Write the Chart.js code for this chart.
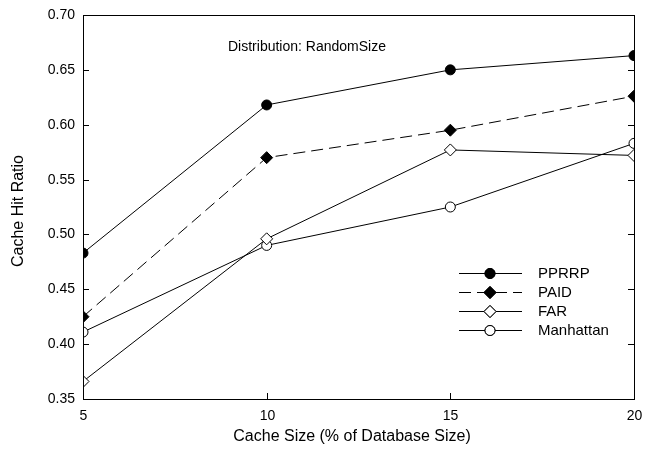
<!DOCTYPE html>
<html>
<head>
<meta charset="utf-8">
<script src="https://cdn.jsdelivr.net/npm/chart.js@4.4.1/dist/chart.umd.min.js"></script>
<style>
  html, body { margin: 0; padding: 0; background: #fff; }
  #wrap { width: 654px; height: 461px; }
</style>
</head>
<body>
<div id="wrap"><canvas id="hitChart" width="654" height="461"></canvas></div>
<script>
// cache sizes (% of database size)
var cacheSizes = [5, 10, 15, 20];

// hit ratio per policy
var pprrp = [0.483, 0.618, 0.650, 0.663];
var paid = [0.425, 0.570, 0.595, 0.626];
var far = [0.366, 0.496, 0.577, 0.572];
var manhattan = [0.411, 0.490, 0.525, 0.583];

var xTicks = [5, 10, 15, 20];
var yTicks = [0.35, 0.40, 0.45, 0.50, 0.55, 0.60, 0.65, 0.70];

var FONT = "Liberation Sans, Arial, sans-serif";

function toPoints(vals) {
  var pts = [];
  for (var i = 0; i < vals.length; i++) {
    pts.push({ x: cacheSizes[i], y: vals[i] });
  }
  return pts;
}

function series(label, vals, shape, filled, dash) {
  return {
    label: label,
    data: toPoints(vals),
    borderColor: "#000",
    borderWidth: 1,
    borderDash: dash || [],
    backgroundColor: filled ? "#000" : "#fff",
    pointBackgroundColor: filled ? "#000" : "#fff",
    pointBorderColor: "#000",
    pointBorderWidth: 1,
    pointStyle: shape,
    pointRadius: shape === "rectRot" ? 6 : 5,
    fill: false,
    tension: 0
  };
}

// frame, inward ticks, labels and legend
var axesPlugin = {
  id: "axesPlugin",
  afterDatasetsDraw: function(chart) {
    var ctx = chart.ctx;
    var a = chart.chartArea;
    var xs = chart.scales.x, ys = chart.scales.y;
    ctx.save();
    ctx.strokeStyle = "#000";
    ctx.lineWidth = 1;
    ctx.strokeRect(Math.round(a.left) + 0.5, Math.round(a.top) + 0.5,
      Math.round(a.right - a.left), Math.round(a.bottom - a.top));

    ctx.fillStyle = "#000";
    ctx.font = "14px " + FONT;

    // y ticks on both sides
    ctx.textAlign = "right";
    ctx.textBaseline = "middle";
    yTicks.forEach(function(v) {
      var py = Math.round(ys.getPixelForValue(v)) + 0.5;
      ctx.beginPath();
      ctx.moveTo(a.left, py); ctx.lineTo(a.left + 6, py);
      ctx.moveTo(a.right, py); ctx.lineTo(a.right - 6, py);
      ctx.stroke();
      ctx.fillText(v.toFixed(2), a.left - 8, py);
    });

    // x ticks
    ctx.textAlign = "center";
    ctx.textBaseline = "middle";
    xTicks.forEach(function(v) {
      var px = Math.round(xs.getPixelForValue(v)) + 0.5;
      ctx.beginPath();
      ctx.moveTo(px, a.bottom); ctx.lineTo(px, a.bottom - 6);
      ctx.stroke();
      ctx.fillText(String(v), px, a.bottom + 17);
    });

    // axis titles
    ctx.font = "16px " + FONT;
    ctx.fillText("Cache Size (% of Database Size)", 352, 437);
    ctx.save();
    ctx.translate(19, 211);
    ctx.rotate(-Math.PI / 2);
    ctx.fillText("Cache Hit Ratio", 0, 0);
    ctx.restore();

    // annotation
    ctx.font = "14px " + FONT;
    ctx.textAlign = "left";
    ctx.fillText("Distribution: RandomSize", 228, 47);

    // legend
    var rowY = [273, 292, 311, 330];
    chart.data.datasets.forEach(function(ds, i) {
      var y = rowY[i] + 0.5;
      ctx.save();
      ctx.strokeStyle = "#000";
      ctx.lineWidth = 1;
      ctx.setLineDash(ds.borderDash);
      ctx.beginPath();
      ctx.moveTo(459, y); ctx.lineTo(522, y);
      ctx.stroke();
      ctx.setLineDash([]);
      Chart.helpers.drawPoint(ctx, {
        pointStyle: ds.pointStyle,
        radius: ds.pointRadius,
        borderWidth: 1,
        rotation: 0
      }, 490, y);
      ctx.fillStyle = ds.pointBackgroundColor;
      ctx.fill();
      ctx.stroke();
      ctx.restore();
      ctx.fillStyle = "#000";
      ctx.font = "15px " + FONT;
      ctx.textAlign = "left";
      ctx.textBaseline = "middle";
      ctx.fillText(ds.label, 538, y);
    });
    ctx.restore();
  }
};

var ctx = document.getElementById("hitChart");

var chart = new Chart(ctx, {
  type: "line",
  data: {
    datasets: [
      series("PPRRP", pprrp, "circle", true),
      series("PAID", paid, "rectRot", true, [12, 6]),
      series("FAR", far, "rectRot", false),
      series("Manhattan", manhattan, "circle", false)
    ]
  },
  options: {
    responsive: false,
    animation: false,
    layout: { padding: { left: 83, right: 20, top: 15, bottom: 62 } },
    scales: {
      x: { type: "linear", min: 5, max: 20, display: false },
      y: { min: 0.35, max: 0.70, display: false }
    },
    plugins: {
      legend: { display: false },
      tooltip: { enabled: false }
    }
  },
  plugins: [axesPlugin]
});
</script>
</body>
</html>
